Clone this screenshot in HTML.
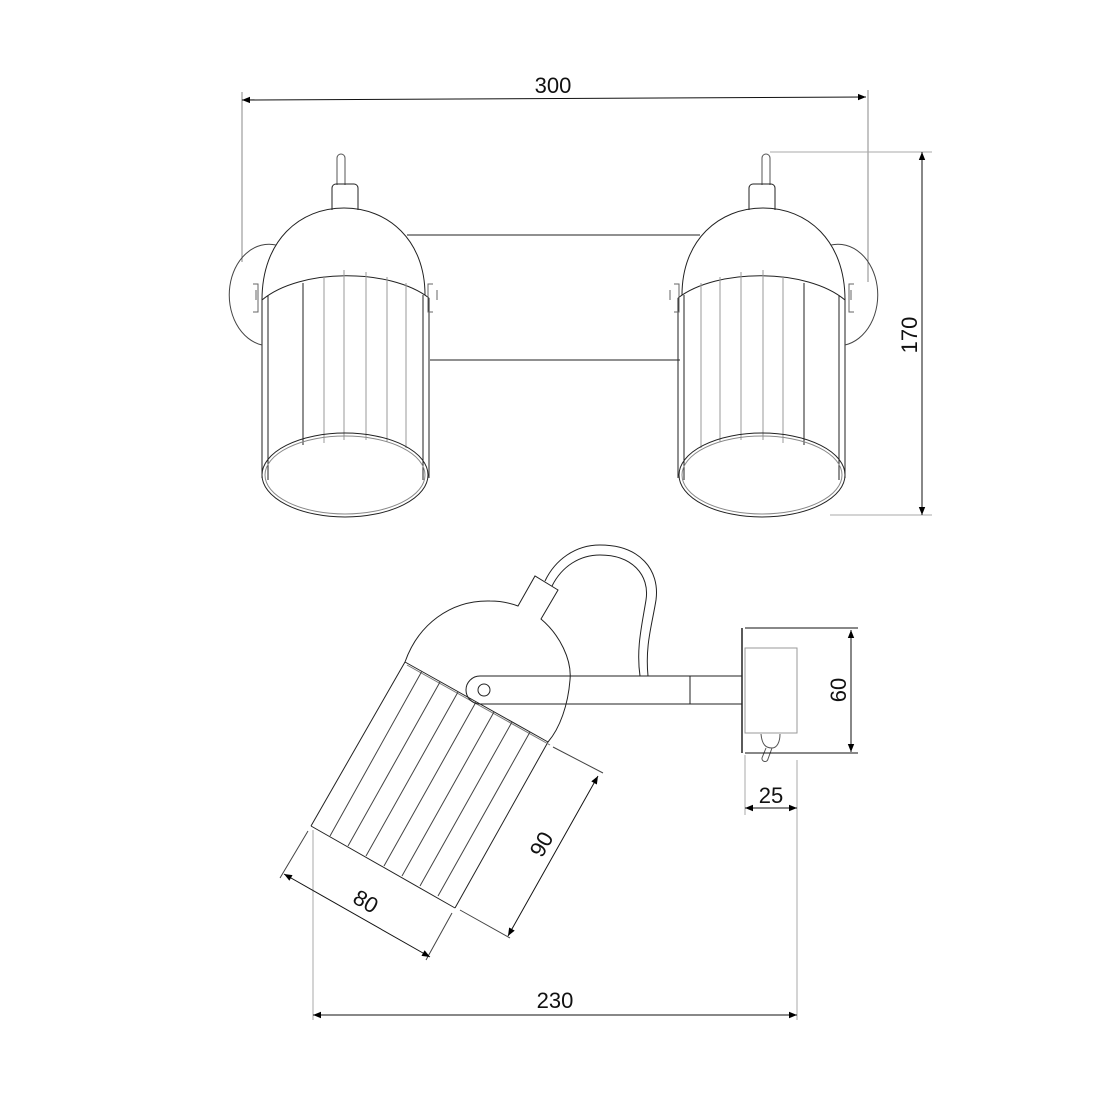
<!DOCTYPE html>
<html><head><meta charset="utf-8"><style>
html,body{margin:0;padding:0;background:#fff;}
svg{display:block;}
text{font-family:"Liberation Sans",sans-serif;font-size:22px;fill:#111;}
</style></head><body>
<svg width="1100" height="1100" viewBox="0 0 1100 1100" xmlns="http://www.w3.org/2000/svg">
<defs>
<marker id="a" viewBox="0 0 10 10" refX="10" refY="5" markerWidth="14" markerHeight="8" markerUnits="userSpaceOnUse" orient="auto-start-reverse"><path d="M0,1 L10,5 L0,9 z" fill="#000"/></marker>
<g id="lamp" fill="none" stroke="#222" stroke-width="1">
  <path d="M337,185 V158 a4,4 0 0 1 8,0 V185" stroke="#555"/>
  <path d="M332,210 V188 a4,4 0 0 1 4,-4 H354 a4,4 0 0 1 4,4 V210" />
  <path d="M262,300 C262,240 300,208 344,208 C388,208 425,240 425,295" />
  <path d="M262,300 C300,268 390,268 429,298" />
  <path d="M262,298 V478 M429,298 V478 M268,295 V480 M423,295 V480" />
  <path d="M303,283 V445 M324,276 V443 M344,270 V440 M366,272 V440 M387,277 V442 M406,283 V448" stroke="#999"/>
  <path d="M303,283 V445" stroke="#222"/>
  <ellipse cx="345" cy="475" rx="83" ry="42"/>
  <ellipse cx="345" cy="475" rx="80" ry="39" stroke="#888"/>
  <path d="M276,245 A36,46 0 0 0 262,345" stroke="#444"/>
  <path d="M253,284 H258 V312 H253 M256,290 V300" stroke="#666"/>
  <path d="M433,284 H428 V312 H433 M437,290 V300" stroke="#666"/>
</g>
</defs>

<!-- 300 dimension -->
<path d="M242,92 V262 M868,90 V282" stroke="#888" fill="none"/>
<line x1="242" y1="100" x2="866" y2="97" stroke="#111" marker-start="url(#a)" marker-end="url(#a)"/>
<text x="553" y="93" text-anchor="middle">300</text>

<!-- bars -->
<path d="M407,235 H700 M430,360 H680" stroke="#222" fill="none"/>

<use href="#lamp"/>
<g transform="translate(1107,0) scale(-1,1)"><use href="#lamp"/></g>

<!-- 170 dimension -->
<path d="M770,152 H932 M830,515 H932" stroke="#aaa" fill="none"/>
<line x1="922" y1="152" x2="922" y2="515" stroke="#111" marker-start="url(#a)" marker-end="url(#a)"/>
<text transform="translate(917,335) rotate(-90)" text-anchor="middle">170</text>

<!-- side view -->
<g fill="none" stroke="#222" stroke-width="1">
  <path d="M405,662 C418,625 450,600 490,601 C502,601 510,603 518,606 L535,576 L558,590 L541,619 C560,635 572,660 570,680 C568,705 560,728 548,742"/>
  <path d="M405,662 L548,742 M405,662 L311,826 M548,742 L455,908 M311,826 L455,908"/>
  <path d="M407,665 L550,745" stroke="#777"/>
  <path d="M422,671 L330,836 M440,682 L348,846 M458,692 L366,856 M476,702 L384,866 M494,712 L402,876 M512,722 L420,886 M530,732 L438,896" stroke="#444"/>
  <path d="M545,581 C555,560 575,545 600,545 C640,545 660,570 656,600 C652,625 645,645 648,676" />
  <path d="M552,586 C562,566 580,555 600,555 C632,555 650,575 646,600 C642,625 636,648 640,676" />
  <path d="M480,676 H742 M480,704 H742 M690,676 V704"/>
  <path d="M480,676 A14,14 0 0 0 480,704" />
  <circle cx="484" cy="690" r="6"/>
  <path d="M742,628 V753" stroke-width="1.5"/>
  <rect x="745" y="648" width="52" height="85" stroke="#999"/>
  <path d="M761,734 C762,745 766,748 772,748 C777,748 780,742 780,734 M766,748 L762,758 a3,3 0 0 0 6,1 L772,748" stroke="#555"/>
</g>
<!-- 60 -->
<path d="M745,628 H858 M745,753 H858" stroke="#111" fill="none"/>
<line x1="851" y1="630" x2="851" y2="752" stroke="#111" marker-start="url(#a)" marker-end="url(#a)"/>
<text transform="translate(846,690) rotate(-90)" text-anchor="middle">60</text>
<!-- 25 -->
<path d="M745,755 V815 M797,760 V1020" stroke="#aaa" fill="none"/>
<line x1="745" y1="808" x2="797" y2="808" stroke="#111" marker-start="url(#a)" marker-end="url(#a)"/>
<text x="771" y="803" text-anchor="middle">25</text>
<!-- 230 -->
<path d="M313,830 V1020" stroke="#aaa" fill="none"/>
<line x1="313" y1="1015" x2="797" y2="1015" stroke="#111" marker-start="url(#a)" marker-end="url(#a)"/>
<text x="555" y="1008" text-anchor="middle">230</text>
<!-- 80 -->
<path d="M308,831 L280,878 M452,913 L426,960" stroke="#444" fill="none"/>
<line x1="284" y1="874" x2="430" y2="957" stroke="#111" marker-start="url(#a)" marker-end="url(#a)"/>
<text transform="translate(362,908) rotate(30)" text-anchor="middle">80</text>
<!-- 90 -->
<path d="M553,747 L603,773 M460,910 L510,938" stroke="#444" fill="none"/>
<line x1="598" y1="776" x2="508" y2="936" stroke="#111" marker-start="url(#a)" marker-end="url(#a)"/>
<text transform="translate(548,848) rotate(-60)" text-anchor="middle">90</text>
</svg>
</body></html>
